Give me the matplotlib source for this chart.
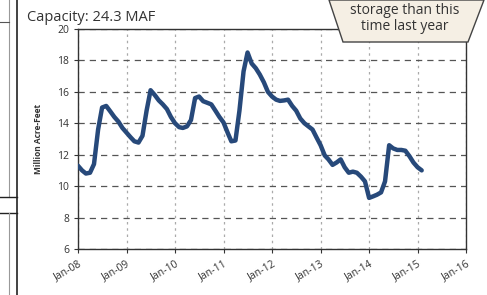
import numpy as np
import pandas as pd
import matplotlib
matplotlib.use("Agg")
import matplotlib.pyplot as plt
import matplotlib.dates as mdates
from matplotlib.patches import Polygon
from matplotlib.lines import Line2D

# monthly storage, million acre-feet (Jan-2008 .. Feb-2015)
storage_2008 = [11.3, 11.0, 10.8, 10.85, 11.4, 13.6, 15.0, 15.1, 14.75, 14.4, 14.1, 13.7]
storage_2009 = [13.4, 13.1, 12.85, 12.77, 13.2, 14.8, 16.1, 15.8, 15.45, 15.2, 14.9, 14.4]
storage_2010 = [14.0, 13.75, 13.7, 13.8, 14.2, 15.6, 15.7, 15.4, 15.3, 15.2, 14.8, 14.4]
storage_2011 = [14.05, 13.4, 12.85, 12.9, 14.8, 17.3, 18.5, 17.8, 17.5, 17.1, 16.6, 16.0]
storage_2012 = [15.7, 15.5, 15.42, 15.45, 15.5, 15.1, 14.8, 14.3, 14.0, 13.8, 13.6, 13.1]
storage_2013 = [12.6, 11.95, 11.7, 11.35, 11.5, 11.7, 11.2, 10.85, 10.92, 10.85, 10.6, 10.3]
storage_2014 = [9.25, 9.35, 9.45, 9.6, 10.3, 12.6, 12.4, 12.3, 12.3, 12.25, 11.9, 11.5]
storage_2015 = [11.2, 11.0]

storage = (storage_2008 + storage_2009 + storage_2010 + storage_2011 +
           storage_2012 + storage_2013 + storage_2014 + storage_2015)
dates = pd.date_range("2008-01-01", periods=len(storage), freq="MS")

tick_years = list(range(2008, 2017))
y_ticks = [6, 8, 10, 12, 14, 16, 18, 20]

plt.rcParams["font.family"] = ["Open Sans", "DejaVu Sans"]

fig = plt.figure(figsize=(4.87, 2.95), dpi=100)
ax = fig.add_axes([0.160, 0.156, 0.797, 0.746])

ax.plot(dates, storage, color="#27497a", lw=3.2, solid_capstyle="round", zorder=3)

ax.set_xlim(pd.Timestamp("2008-01-01"), pd.Timestamp("2016-01-01"))
ax.set_ylim(6, 20)
ax.set_yticks(y_ticks)
ax.set_xticks([pd.Timestamp(f"{y}-01-01") for y in tick_years])
ax.xaxis.set_major_formatter(mdates.DateFormatter("%b-%y"))
ax.tick_params(axis="x", labelsize=7.5, colors="#333333", length=3, rotation=30)
ax.tick_params(axis="y", labelsize=7.5, colors="#333333", length=3)
for lab in ax.get_xticklabels():
    lab.set_ha("right")
    lab.set_rotation_mode("anchor")

ax.grid(axis="y", color="#555555", ls=(0, (5, 4)), lw=0.9)
ax.grid(axis="x", color="#aaaaaa", ls=(0, (2, 3)), lw=0.9)
for sp in ax.spines.values():
    sp.set_color("#333333")
    sp.set_linewidth(1.0)

ax.set_ylabel("Million Acre-Feet", fontsize=6, fontweight="bold", color="#333333", labelpad=10)

fig.text(0.055, 0.94, "Capacity: 24.3 MAF", fontsize=10.5, color="#333333", ha="left", va="center")

# callout box top right
W, H = 487.0, 295.0
pts = [(329 / W, 1.0), (484 / W, 1.0), (468 / W, 1 - 42 / H), (343 / W, 1 - 42 / H)]
fig.patches.append(Polygon(pts, closed=True, transform=fig.transFigure,
                           facecolor="#f5efe4", edgecolor="#444444", lw=1.0, zorder=5))
fig.text(405 / W, 1 - 10 / H, "storage than this", fontsize=10, color="#333333",
         ha="center", va="center", zorder=6)
fig.text(405 / W, 1 - 27 / H, "time last year", fontsize=10, color="#333333",
         ha="center", va="center", zorder=6)

# edges of neighbouring panels from the page
fig.lines.append(Line2D([17 / W, 17 / W], [0, 1], transform=fig.transFigure, color="#222222", lw=1.2))
fig.lines.append(Line2D([9 / W, 9 / W], [1, 1 - 197 / H], transform=fig.transFigure, color="#999999", lw=0.8))
fig.lines.append(Line2D([0, 9 / W], [1 - 22 / H, 1 - 22 / H], transform=fig.transFigure, color="#555555", lw=0.8))
fig.lines.append(Line2D([0, 17 / W], [1 - 197 / H, 1 - 197 / H], transform=fig.transFigure, color="#222222", lw=1.0))
fig.lines.append(Line2D([0, 17 / W], [1 - 213 / H, 1 - 213 / H], transform=fig.transFigure, color="#222222", lw=1.0))
fig.lines.append(Line2D([9 / W, 9 / W], [1 - 213 / H, 0], transform=fig.transFigure, color="#999999", lw=0.8))

fig.savefig("out.png", dpi=100)
